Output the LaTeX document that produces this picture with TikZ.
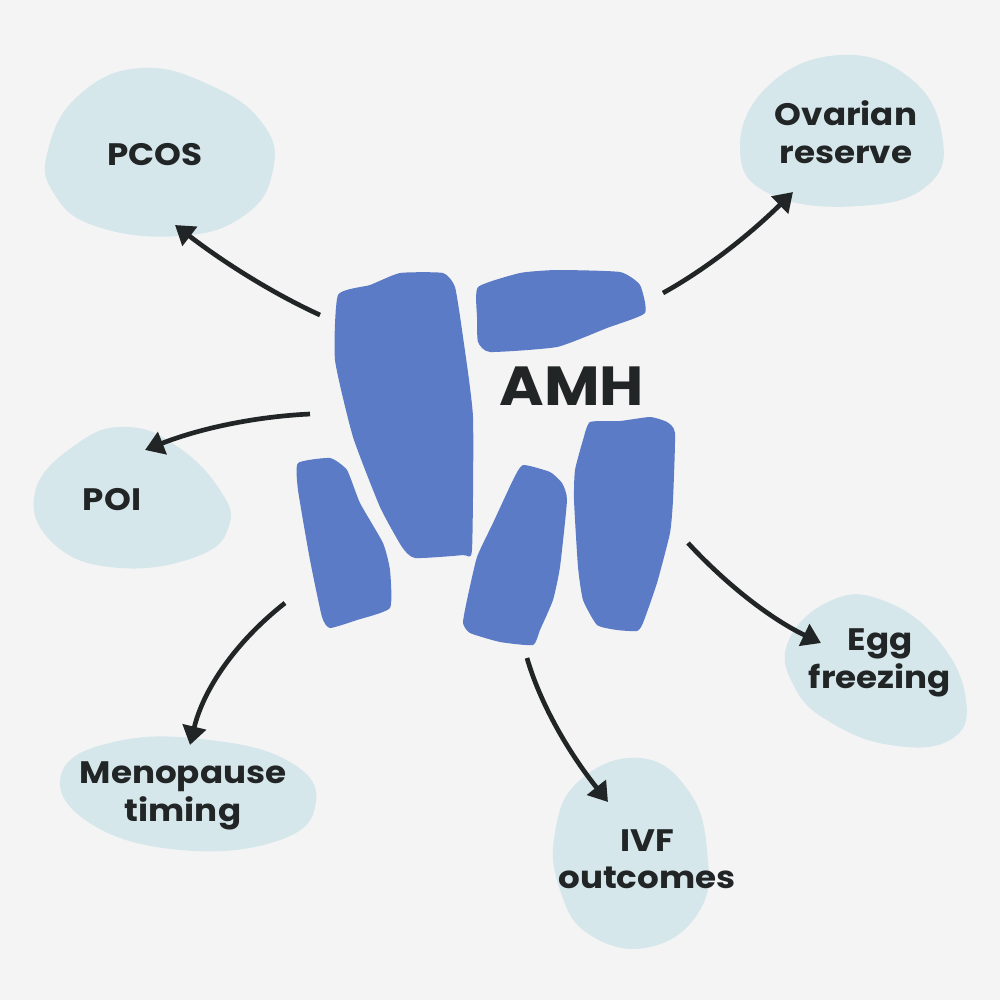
\documentclass[tikz,border=0pt]{standalone}
\usepackage{fontspec}
\setmainfont{Poppins}[FakeStretch=1.1]
\usetikzlibrary{arrows.meta}
\definecolor{bgc}{HTML}{F5F4F5}
\definecolor{blobc}{HTML}{D6E7EC}
\definecolor{amhblue}{HTML}{5B7BC6}
\definecolor{inkc}{HTML}{222526}
\tikzset{
  blob/.style={fill=blobc, draw=none},
  cell/.style={fill=amhblue, draw=none},
  lbl/.style={text=inkc, font=\fontsize{26.5}{32}\selectfont\bfseries, align=center, inner sep=0pt},
  arr/.style={draw=inkc, line width=4pt, -{Triangle[length=16pt, width=20pt]}},
}
\begin{document}
\begin{tikzpicture}[x=0.03cm, y=-0.03cm]
\fill[bgc] (0,0) rectangle (1000,1000);
\useasboundingbox (0,0) rectangle (1000,1000);

% blobs
\fill[blob] plot[smooth cycle, tension=0.75] coordinates {(48,150) (78,96) (140,68) (212,86) (263,124) (273,170) (245,215) (180,236) (95,226) (53,192)};
\fill[blob] plot[smooth cycle, tension=0.75] coordinates {(740,150) (768,86) (840,55) (910,78) (942,135) (928,185) (860,206) (772,195)};
\fill[blob] plot[smooth cycle, tension=0.75] coordinates {(35,492) (78,443) (128,427) (178,447) (220,490) (229,526) (198,556) (120,568) (55,545)};
\fill[blob] plot[smooth cycle, tension=0.75] coordinates {(62,772) (118,741) (210,740) (290,762) (316,802) (280,840) (180,850) (88,822)};
\fill[blob] plot[smooth cycle, tension=0.75] coordinates {(555,832) (580,780) (640,758) (688,790) (707,850) (700,910) (650,947) (590,935) (560,890)};
\fill[blob] plot[smooth cycle, tension=0.75] coordinates {(788,642) (830,601) (882,600) (938,640) (966,700) (950,740) (890,745) (830,722) (795,688)};

% blue cells
\fill[cell] plot[smooth cycle, tension=0.3] coordinates {(338,295) (370,285) (400,273) (443,273) (455,287) (463,337) (473,417) (472,550) (463,555) (415,558) (402,547) (380,507) (353,437) (335,360)};
\fill[cell] plot[smooth cycle, tension=0.3] coordinates {(478,287) (520,273) (557,270) (620,272) (640,285) (645,313) (607,328) (557,347) (490,352) (478,342) (477,317)};
\fill[cell] plot[smooth cycle, tension=0.3] coordinates {(298,463) (330,458) (347,470) (360,503) (383,543) (390,570) (390,608) (357,620) (330,628) (322,617) (310,560) (298,490)};
\fill[cell] plot[smooth cycle, tension=0.3] coordinates {(523,465) (550,472) (562,483) (567,500) (560,567) (553,600) (540,630) (533,645) (500,642) (470,633) (463,623) (467,600) (477,557) (493,523) (513,480)};
\fill[cell] plot[smooth cycle, tension=0.3] coordinates {(590,422) (620,421) (650,417) (667,422) (675,433) (673,500) (670,533) (657,583) (643,623) (637,631) (617,630) (597,625) (583,600) (578,567) (574,500) (575,470) (583,440)};

% labels
\node[lbl, anchor=base] (amh) at (572,405) {\fontsize{47}{50}\selectfont AMH};
\node[lbl, anchor=base] (pcos) at (155,165) {PCOS};
\node[lbl, anchor=base] (poi) at (112,510) {POI};
\node[lbl] (ovar) at (846,132) {Ovarian\\reserve};
\node[lbl] (meno) at (183,796) {Menopause\\timing};
\node[lbl] (ivf) at (647,859) {IVF\\outcomes};
\node[lbl] (egg) at (880,663) {Egg\\freezing};

% connector ends
\coordinate (s1) at (320,315); \coordinate (e1) at (175,225);
\coordinate (s2) at (663,293); \coordinate (e2) at (793,192);
\coordinate (s3) at (310,414); \coordinate (e3) at (145,450);
\coordinate (s4) at (285,603); \coordinate (e4) at (190,745);
\coordinate (s5) at (527,658); \coordinate (e5) at (608,802);
\coordinate (s6) at (688,543); \coordinate (e6) at (821,643);

\draw[arr] (s1) .. controls (274.7,294.3) and (226.3,264.3) .. (e1);
\draw[arr] (s2) .. controls (705,269.7) and (748.3,236) .. (e2);
\draw[arr] (s3) .. controls (254,416.7) and (199,428.7) .. (e3);
\draw[arr] (s4) .. controls (235,642.3) and (203.3,689.7) .. (e4);
\draw[arr] (s5) .. controls (539.7,702) and (566.7,750) .. (e5);
\draw[arr] (s6) .. controls (728,586.3) and (772.3,619.7) .. (e6);
\end{tikzpicture}
\end{document}
